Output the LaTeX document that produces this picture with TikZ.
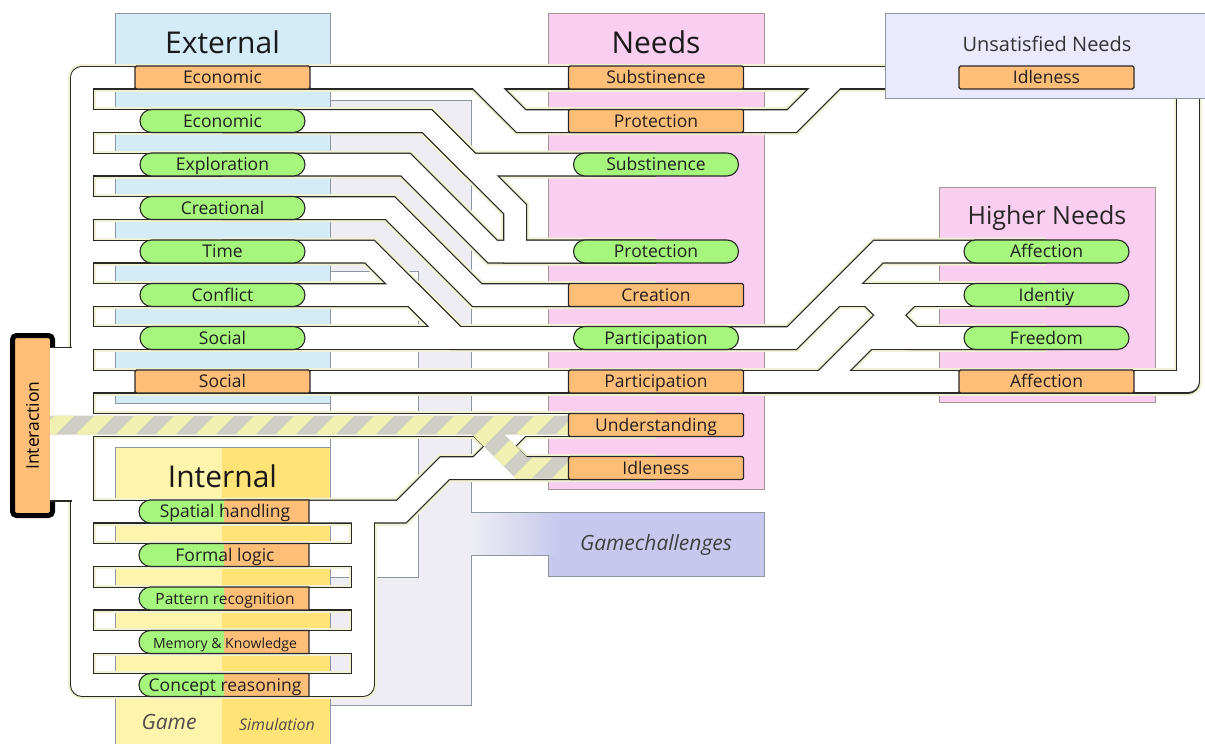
\documentclass[tikz,border=0pt]{standalone}
\usepackage{fontspec}
\setmainfont{Open Sans}
\usetikzlibrary{shapes.misc}

\definecolor{orfill}{RGB}{255,190,120}
\definecolor{grfill}{RGB}{166,245,125}
\definecolor{nodeline}{RGB}{40,40,40}
\definecolor{extblue}{RGB}{212,236,248}
\definecolor{gamey}{RGB}{255,244,172}
\definecolor{simy}{RGB}{255,227,118}
\definecolor{graypan}{RGB}{237,237,243}
\definecolor{lavender}{RGB}{200,200,238}
\definecolor{pinkpan}{RGB}{249,206,240}
\definecolor{unsatc}{RGB}{235,233,252}
\definecolor{panline}{RGB}{140,150,160}
\definecolor{pinkline}{RGB}{160,150,140}
\definecolor{railedge}{RGB}{40,40,36}
\definecolor{railglow}{RGB}{240,240,210}
\definecolor{hazgray}{RGB}{206,206,196}
\definecolor{hazyel}{RGB}{240,240,178}

\pgfdeclarelayer{panels}
\pgfdeclarelayer{rails}
\pgfsetlayers{panels,rails,main}

% the whole track net, drawn three times (glow, edge, white)
\newcommand{\railnet}{%
  \path[rail, line join=round] (eEcoO.center) -- (busL |- eEcoO) -- (busL |- iCon) -- (iCon.center);
  \foreach \n in {eEcoG,eExp,eCre,eTim,eCon,eSocG,eSocO,iSpa,iFor,iPat,iMem}
    \path[rail] (\n.center) -- (busL |- \n);
  \path[rail] (busL |- nUnd) -- (nUnd.center);
  \path[rail, line join=round] (iSpa.center) -- (busI |- iSpa) -- (busI |- iCon) -- (iCon.center);
  \foreach \n in {iFor,iPat,iMem}
    \path[rail] (\n.center) -- (busI |- \n);
  % external -> needs
  \path[rail] (eEcoO.center) -- (nSubO.center);
  \path[rail] (477.5,77.5) -- (521,121) -- (nProO.center);
  \path[rail] (eEcoG.center) -- (427,121) -- (470.5,164.5) -- (nSubG.center);
  \path[rail] (eEcoG.center) -- (427,121) -- (515,209) -- (515,251.5) -- (nProG.center);
  \path[rail] (eExp.center) -- (405.5,164.5) -- (492.5,251.5) -- (nProG.center);
  \path[rail] (eCre.center) -- (390,208) -- (477,295) -- (nCre.center);
  \path[rail] (eTim.center) -- (369.5,251.5) -- (456,338) -- (nParG.center);
  \path[rail] (eCon.center) -- (413,295) -- (456,338);
  \path[rail] (eSocG.center) -- (nParG.center);
  \path[rail] (eSocO.center) -- (nParO.center);
  % internal -> needs
  \path[rail] (iSpa.center) -- (401.5,511.5) -- (445,468) -- (nIdl.center);
  \path[rail] (478.5,425) -- (521.5,468);
  \path[rail] (478,468) -- (521,425);
  % needs -> higher needs / unsatisfied
  \path[rail, line join=round] (nSubO.center) -- (busR |- nSubO) -- (busR |- hAffO) -- (hAffO.center);
  \path[rail] (nProO.center) -- (792,121) -- (835.5,77.5);
  \path[rail] (nParG.center) -- (792,338) -- (878.5,251.5) -- (hAff.center);
  \path[rail] (835,295) -- (hIde.center);
  \path[rail] (869.5,295) -- (912.5,338) -- (hFre.center);
  \path[rail] (nParO.center) -- (hAffO.center);
  \path[rail] (823.5,381.5) -- (910,295);
  \path[rail] (867,338) -- (hFre.center);
}

\begin{document}
\begin{tikzpicture}[x=1pt, y=-1pt,
  box/.style={draw=nodeline, line width=1.1pt, minimum height=23pt, inner sep=0pt,
    text height=12.5pt, text depth=0.5pt,
    font=\fontsize{17.5}{20}\selectfont, text=black!88},
  ornode/.style={box, rectangle, rounded corners=1.5pt, fill=orfill, minimum width=175pt},
  grnode/.style={box, rounded rectangle, fill=grfill, minimum width=165pt},
  halfnode/.style={box, rounded rectangle, rounded rectangle right arc=none, fill=grfill,
    minimum width=170pt, path picture={\fill[orfill] (path picture bounding box.north)
    rectangle (path picture bounding box.south east);}},
  interbox/.style={draw=black, line width=5pt, fill=orfill, rounded corners=4pt, rotate=90,
    minimum width=180pt, minimum height=40pt, inner sep=0pt, font=\fontsize{17.5}{20}\selectfont},
  panel/.style={draw=panline, line width=0.8pt},
  bigtitle/.style={font=\fontsize{30}{34}\selectfont, text=black!90},
  captext/.style={font=\fontsize{#1}{#1}\selectfont\itshape, text=black!70}]

\useasboundingbox (0,0) rectangle (1205,744);

% panels
\begin{pgfonlayer}{panels}
  \fill[graypan] (330,100) -- (471,100) -- (471,705) -- (330,705) -- cycle;
  \fill[lavender] (548,512) rectangle (764,576);
  \shade[left color=graypan, right color=lavender] (471,512) rectangle (560,555);
  \draw[panel] (330,100) -- (471,100) -- (471,512) -- (764,512) -- (764,576) -- (548,576)
    -- (548,555) -- (471,555) -- (471,705) -- (330,705);
  \filldraw[panel, fill=white] (330,271) rectangle (418,577);
  \filldraw[panel, fill=extblue] (115,13) rectangle (330,403);
  \fill[gamey] (115,447) rectangle (222,746);
  \fill[simy] (222,447) rectangle (330,746);
  \draw[panel] (115,746) -- (115,447) -- (330,447) -- (330,746);
  \filldraw[panel, draw=pinkline, fill=pinkpan] (548,13) rectangle (764,489);
  \filldraw[panel, draw=pinkline, fill=pinkpan] (939,187) rectangle (1155,402);
  \node[bigtitle] (tExt) at (222.5,42) {External};
  \node[bigtitle] (tNeeds) at (656,42) {Needs};
  \node[bigtitle] (tInt) at (222.5,476) {Internal};
  \node[font=\fontsize{25}{28}\selectfont, text=black!85] (tHigh) at (1047,218) {Higher Needs};
  \node[captext=21, text=black!75] (tGame) at (656,545) {Gamechallenges};
  \node[captext=21] (tG) at (169,722) {Game};
  \node[captext=16] (tS) at (277,724) {Simulation};
\end{pgfonlayer}

% interaction end
\node[interbox] (inter) at (32.5,425.5) {Interaction};
\fill[railedge] (50,346.5) rectangle (72,501.5);
\fill[white] (50,348) rectangle (72.5,500);

% construction stripe
\begin{scope}
  \clip (50,415.5) -- (568,415.5) -- (568,434.5) -- (504.25,434.5) -- (527.25,457.5)
    -- (568,457.5) -- (568,478.5) -- (515.75,478.5) -- (471.75,434.5) -- (50,434.5) -- cycle;
  \fill[hazgray] (40,400) rectangle (580,490);
  \foreach \x in {-60,-20,...,580}
    \fill[hazyel] (\x,490) -- ++(20,0) -- ++(90,-90) -- ++(-20,0) -- cycle;
\end{scope}

% unsatisfied needs box
\filldraw[panel, fill=unsatc] (885,13) rectangle (1210,98);
\node[font=\fontsize{20}{22}\selectfont, text=black!80] (tUns) at (1047,44) {Unsatisfied Needs};

% external
\node[ornode] (eEcoO) at (222.5,77.5) {Economic};
\node[grnode] (eEcoG) at (222.5,121) {Economic};
\node[grnode] (eExp) at (222.5,164.5) {Exploration};
\node[grnode] (eCre) at (222.5,208) {Creational};
\node[grnode] (eTim) at (222.5,251.5) {Time};
\node[grnode] (eCon) at (222.5,295) {Conflict};
\node[grnode] (eSocG) at (222.5,338) {Social};
\node[ornode] (eSocO) at (222.5,381.5) {Social};

% internal
\node[halfnode] (iSpa) at (225,511.5) {Spatial handling};
\node[halfnode] (iFor) at (225,555) {Formal logic};
\node[halfnode, font=\fontsize{15.5}{18}\selectfont] (iPat) at (225,598.5) {Pattern recognition};
\node[halfnode, font=\fontsize{14}{16}\selectfont] (iMem) at (225,642) {Memory \& Knowledge};
\node[halfnode] (iCon) at (225,685) {Concept reasoning};

% needs
\node[ornode] (nSubO) at (656,77.5) {Substinence};
\node[ornode] (nProO) at (656,121) {Protection};
\node[grnode] (nSubG) at (656,164.5) {Substinence};
\node[grnode] (nProG) at (656,251.5) {Protection};
\node[ornode] (nCre) at (656,295) {Creation};
\node[grnode] (nParG) at (656,338) {Participation};
\node[ornode] (nParO) at (656,381.5) {Participation};
\node[ornode] (nUnd) at (656,425) {Understanding};
\node[ornode] (nIdl) at (656,468) {Idleness};

% higher / unsatisfied
\node[ornode] (uIdl) at (1046.5,77.5) {Idleness};
\node[grnode] (hAff) at (1046.5,251.5) {Affection};
\node[grnode] (hIde) at (1046.5,295) {Identiy};
\node[grnode] (hFre) at (1046.5,338) {Freedom};
\node[ornode] (hAffO) at (1046.5,381.5) {Affection};

\coordinate (busL) at (82,0);
\coordinate (busI) at (363,0);
\coordinate (busR) at (1188,0);

\begin{pgfonlayer}{rails}
  \tikzset{rail/.style={draw=railglow, line width=28pt}}
  \railnet
  \tikzset{rail/.style={draw=railedge, line width=24pt}}
  \railnet
  \tikzset{rail/.style={draw=white, line width=21.5pt}}
  \railnet
\end{pgfonlayer}
\end{tikzpicture}
\end{document}
